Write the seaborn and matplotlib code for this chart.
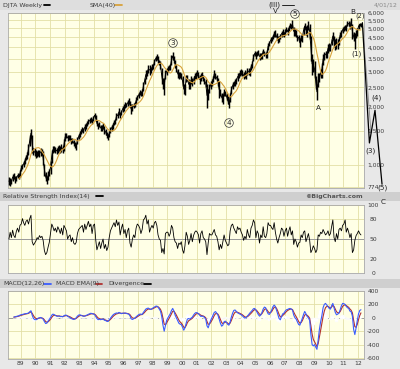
import numpy as np
import pandas as pd
import matplotlib
matplotlib.use("Agg")
import matplotlib.pyplot as plt
from matplotlib.ticker import FixedLocator, FixedFormatter, NullLocator, NullFormatter
from matplotlib.lines import Line2D
from matplotlib.patches import Rectangle
import seaborn as sns

# ---------------- data (monthly, Mar 1988 .. Mar 2012) ----------------
price_low = [
    790, 785, 800, 830, 850, 815, 830, 860, 850, 870,
    930, 960, 980, 1010, 1060, 1080, 1130, 1250, 1380, 1150, 1130, 1120,
    1090, 1100, 1120, 1100, 1120, 1130, 1000, 880, 830, 800, 840, 880,
    900, 1030, 1150, 1170, 1150, 1140, 1160, 1180, 1150, 1170, 1150, 1180,
    1330, 1370, 1330, 1340, 1350, 1290, 1300, 1260, 1230, 1200, 1280, 1360,
    1400, 1440, 1480, 1460, 1500, 1540, 1580, 1620, 1640, 1660, 1620, 1680,
    1740, 1680, 1580, 1540, 1560, 1500, 1500, 1540, 1450, 1430, 1370, 1350,
    1400, 1470, 1500, 1540, 1600, 1620, 1700, 1750, 1800, 1750, 1800, 1880,
    1900, 1950, 1980, 2000, 2050, 1980, 1830, 1900, 1950, 1980, 2050, 2150,
    2200, 2280, 2250, 2250, 2400, 2600, 2750, 2850, 2950, 2900, 2950, 3050,
    3100, 3250, 3400, 3450, 3350, 3250, 3100, 2600, 2450, 2280, 2750, 2900,
    3000, 3050, 3050, 3250, 3450, 3350, 3150, 3000, 2800, 2750, 2800, 2750,
    2550, 2300, 2280, 2650, 2700, 2450, 2450, 2600, 2550, 2600, 2750, 2750,
    2850, 2800, 2600, 2700, 2800, 2700, 2600, 2500, 1950, 2150, 2350, 2450,
    2550, 2650, 2800, 2750, 2700, 2550, 2200, 2250, 2100, 2050, 2250, 2250,
    2150, 2050, 1950, 2100, 2300, 2450, 2550, 2550, 2600, 2700, 2800, 2850,
    2900, 2850, 2750, 2800, 2750, 2900, 2900, 2850, 3050, 3150, 3400, 3600,
    3500, 3600, 3650, 3450, 3500, 3500, 3700, 3600, 3550, 3550, 3900, 4050,
    4200, 4300, 4400, 4550, 4500, 4350, 4200, 4250, 4400, 4550, 4600, 4500,
    4650, 4800, 4650, 4850, 5000, 4950, 5000, 4600, 4600, 4500, 4300, 4350,
    4000, 4300, 4250, 4650, 4950, 4650, 4500, 4900, 4400, 3400, 2900, 3000,
    2800, 2450, 2150, 2500, 2650, 2800, 2800, 3250, 3450, 3550, 3550, 3750,
    3850, 3850, 4100, 4350, 4000, 3900, 3950, 3950, 4100, 4450, 4550, 4750,
    4850, 4900, 4850, 5150, 5150, 4950, 5200, 4400, 4300, 3950, 4450, 4600,
    4950, 5150, 5100,
]
price_high = [
    870, 860, 850, 905, 915, 880, 885, 910, 900, 945,
    1000, 1020, 1050, 1090, 1130, 1170, 1290, 1420, 1535, 1420, 1230, 1220,
    1200, 1180, 1200, 1190, 1220, 1210, 1180, 1020, 920, 880, 930, 960,
    1050, 1200, 1250, 1260, 1240, 1230, 1260, 1270, 1250, 1280, 1260, 1360,
    1460, 1470, 1430, 1420, 1430, 1380, 1380, 1340, 1310, 1300, 1400, 1440,
    1490, 1530, 1570, 1550, 1620, 1640, 1680, 1720, 1740, 1760, 1720, 1790,
    1860, 1800, 1700, 1640, 1660, 1600, 1600, 1640, 1580, 1540, 1480, 1450,
    1500, 1560, 1600, 1640, 1700, 1720, 1860, 1850, 1950, 1880, 1920, 2000,
    2050, 2100, 2080, 2150, 2200, 2120, 2050, 2050, 2080, 2100, 2220, 2280,
    2350, 2420, 2400, 2450, 2650, 2800, 3050, 3050, 3250, 3250, 3150, 3300,
    3300, 3500, 3600, 3700, 3600, 3450, 3400, 3150, 2800, 2800, 3050, 3150,
    3200, 3250, 3300, 3650, 3780, 3600, 3450, 3250, 3100, 3000, 3000, 2950,
    2850, 2600, 2600, 2900, 2900, 2750, 2700, 2850, 2800, 2850, 2950, 3000,
    3050, 3000, 2900, 2950, 3000, 2900, 2800, 2750, 2600, 2450, 2600, 2700,
    2750, 2850, 3050, 2950, 2900, 2800, 2700, 2450, 2350, 2300, 2450, 2400,
    2350, 2250, 2150, 2350, 2550, 2650, 2700, 2750, 2800, 2950, 2950, 3050,
    3100, 3050, 3000, 3050, 2950, 3150, 3150, 3100, 3300, 3400, 3700, 3850,
    3800, 3850, 3900, 3750, 3750, 3750, 3950, 3850, 3800, 3900, 4200, 4300,
    4500, 4550, 4650, 4850, 4900, 4750, 4600, 4600, 4700, 4850, 4950, 4800,
    4950, 5100, 5000, 5150, 5350, 5250, 5500, 5100, 4950, 4900, 4650, 4650,
    4450, 4650, 4700, 5100, 5350, 5150, 5200, 5450, 5300, 4600, 3700, 3500,
    3400, 2850, 2600, 2950, 2950, 3100, 3350, 3700, 3800, 3850, 3850, 4150,
    4200, 4150, 4400, 4800, 4600, 4400, 4450, 4400, 4550, 4800, 4900, 5100,
    5150, 5200, 5200, 5450, 5450, 5300, 5650, 5300, 4800, 4750, 4900, 5050,
    5300, 5350, 5350,
]
rsi_values = [
    50, 60, 52, 63, 55, 52, 61, 66, 60, 70,
    72, 80, 74, 70, 76, 78, 72, 80, 85, 46, 41, 44,
    47, 52, 50, 55, 52, 54, 48, 33, 27, 30, 38, 45,
    58, 72, 68, 62, 66, 60, 68, 64, 58, 66, 56, 70,
    66, 62, 50, 54, 56, 46, 52, 44, 42, 45, 58, 64,
    66, 68, 70, 60, 72, 64, 70, 76, 68, 72, 58, 70,
    72, 48, 34, 40, 46, 36, 44, 50, 36, 42, 33, 38,
    52, 62, 66, 70, 74, 68, 78, 70, 75, 56, 66, 72,
    58, 64, 52, 62, 66, 44, 38, 50, 56, 52, 66, 72,
    70, 66, 58, 64, 78, 80, 85, 72, 78, 60, 66, 70,
    66, 74, 76, 70, 56, 50, 48, 30, 36, 28, 58, 60,
    60, 54, 58, 70, 66, 52, 46, 44, 36, 44, 42, 46,
    34, 29, 40, 60, 54, 42, 48, 58, 46, 55, 60, 62,
    60, 56, 44, 58, 62, 52, 50, 46, 27, 44, 58, 56,
    56, 60, 64, 56, 54, 46, 34, 42, 36, 46, 56, 48,
    44, 40, 42, 62, 70, 72, 66, 62, 58, 68, 64, 66,
    60, 56, 48, 54, 50, 64, 56, 52, 66, 70, 78, 74,
    52, 62, 58, 44, 56, 52, 68, 54, 52, 58, 74, 70,
    70, 66, 64, 74, 60, 50, 44, 52, 58, 66, 64, 54,
    62, 66, 54, 62, 68, 56, 62, 42, 50, 46, 38, 44,
    45, 56, 52, 60, 62, 46, 52, 58, 48, 30, 34, 40,
    36, 30, 34, 56, 54, 60, 58, 64, 60, 56, 58, 62,
    55, 58, 68, 78, 52, 46, 58, 50, 64, 66, 62, 70,
    72, 78, 60, 66, 60, 52, 58, 30, 34, 48, 55, 58,
    62, 58, 56,
]
macd_values = [
    np.nan, np.nan, np.nan, np.nan, 10, 15, 20, 25, 30, 40,
    45, 50, 55, 60, 62, 65, 72, 90, 105, 40, -10, -25,
    -30, -20, -5, 0, 5, -5, -20, -55, -85, -80, -50, -25,
    5, 40, 55, 48, 35, 25, 22, 28, 18, 20, 15, 30,
    40, 38, 22, 12, 5, -10, -20, -25, -18, 0, 25, 40,
    45, 38, 30, 22, 25, 35, 42, 52, 60, 68, 62, 58,
    50, 20, -10, -28, -22, -28, -22, -18, -35, -40, -52, -55,
    -30, -5, 20, 40, 55, 65, 72, 68, 80, 70, 62, 68,
    70, 72, 65, 60, 55, 30, -15, -25, -15, -5, 15, 30,
    45, 55, 55, 50, 80, 105, 130, 140, 145, 130, 125, 135,
    150, 160, 172, 175, 160, 130, 100, 20, -110, -200, -120, -40,
    0, 30, 60, 110, 140, 100, 40, 0, -40, -80, -95, -100,
    -140, -185, -150, -80, -20, -10, -20, -5, 10, 40, 65, 78,
    75, 60, 40, 20, 25, 20, 5, -20, -120, -150, -90, -40,
    0, 40, 80, 93, 70, 40, -20, -80, -125, -110, -60, -50,
    -70, -100, -110, -60, 10, 70, 110, 117, 95, 75, 65, 55,
    45, 30, 10, -5, 5, 25, 45, 70, 90, 110, 135, 140,
    115, 80, 50, 25, 40, 80, 130, 160, 150, 100, 60, 50,
    80, 120, 165, 190, 170, 110, 50, -10, -30, 20, 60, 70,
    100, 120, 125, 135, 140, 130, 115, 40, 0, -20, -60, -100,
    -110, -60, -10, 50, 95, 60, 20, 0, -40, -250, -400, -420,
    -400, -440, -470, -330, -175, -60, 30, 150, 200, 215, 190, 170,
    140, 130, 180, 215, 150, 80, 45, 55, 70, 120, 180, 215,
    210, 200, 170, 150, 140, 100, 90, 25, -175, -250, -150, -40,
    60, 110, 120,
]
year_labels = ["89", "90", "91", "92", "93", "94", "95", "96", "97", "98", "99", "00",
               "01", "02", "03", "04", "05", "06", "07", "08", "09", "10", "11", "12"]
price_ticks = [774, 1000, 1500, 2000, 2500, 3000, 3500, 4000, 4500, 5000, 5500, 6000]
price_tick_labels = ["774", "1,000", "1,500", "2,000", "2,500", "3,000", "3,500",
                     "4,000", "4,500", "5,000", "5,500", "6,000"]
rsi_ticks = [0, 20, 50, 80, 100]
macd_ticks = [-600, -400, -200, 0, 200, 400]
# hand-drawn wave projection (2)->(3)->(4)->(5)
wave_dates = ["2012-04-20", "2012-10-12", "2013-02-28", "2013-08-22"]
wave_values = [5350, 1300, 1910, 800]

# ---------------- frame ----------------
months = pd.date_range("1988-03-01", periods=len(price_low), freq="MS") + pd.Timedelta(days=14)
df = pd.DataFrame({"date": months, "low": price_low, "high": price_high,
                   "rsi": rsi_values, "macd": macd_values})
df["mid"] = (df["low"] + df["high"]) / 2.0
df["sma"] = df["mid"].rolling(9).mean()
df["signal"] = df["macd"].ewm(alpha=0.45, adjust=False, ignore_na=True).mean()
df["div"] = df["macd"] - df["signal"]

sns.set_style("white")
plt.rcParams["font.family"] = ["DejaVu Sans"]
plt.rcParams["axes.unicode_minus"] = False

W, H = 400.0, 369.0
BG = "#e8e8e8"
BAND = "#cfcfcf"
PLOT_BG = "#ffffe6"
GRID = "#e3dfa6"
TXT = "#3a3a3a"

def fx(x):
    return x / W

def fy(y):
    return 1.0 - y / H

fig = plt.figure(figsize=(4.0, 3.69), dpi=100)
fig.patch.set_facecolor(BG)
for (y0, y1, c) in [(0, 10, "#dedede"), (192, 201, BAND), (279, 288, BAND)]:
    fig.add_artist(Rectangle((0, fy(y1)), 1, (y1 - y0) / H, transform=fig.transFigure,
                             facecolor=c, edgecolor="none", zorder=0))

L, R = 8, 364
ax1 = fig.add_axes([fx(L), fy(188), (R - L) / W, (188 - 13) / H])
ax2 = fig.add_axes([fx(L), fy(273), (R - L) / W, (273 - 205) / H])
ax3 = fig.add_axes([fx(L), fy(359), (R - L) / W, (359 - 291) / H])

x0, x1 = pd.Timestamp("1988-02-21"), pd.Timestamp("2012-05-30")
year_dates = pd.date_range("1989-01-01", "2012-01-01", freq="YS")

# ---------------- price panel ----------------
ax1.vlines(df["date"], df["low"], df["high"], color="black", lw=1.05, zorder=3)
sns.lineplot(data=df, x="date", y="mid", ax=ax1, color="black", lw=0.7, legend=False, zorder=3)
sns.lineplot(data=df, x="date", y="sma", ax=ax1, color="#d8a23c", lw=0.8, legend=False, zorder=4)
ax1.plot(pd.to_datetime(wave_dates), wave_values, color="black", lw=0.9, clip_on=False, zorder=6)
ax1.plot(pd.to_datetime([wave_dates[0], "2012-11-20"]), [wave_values[0], 1480], color="#8a8a8a",
         lw=0.6, clip_on=False, zorder=5)
ax1.set_yscale("log")
ax1.set_ylim(765, 6000)
ax1.yaxis.set_major_locator(FixedLocator(price_ticks))
ax1.yaxis.set_major_formatter(FixedFormatter(price_tick_labels))
ax1.yaxis.set_minor_locator(NullLocator())
ax1.yaxis.set_minor_formatter(NullFormatter())

# ---------------- RSI panel ----------------
sns.lineplot(data=df, x="date", y="rsi", ax=ax2, color="black", lw=0.6, legend=False, zorder=3)
ax2.set_ylim(0, 100)
ax2.set_yticks(rsi_ticks)
ax2.axhline(50, color="#9a9a9a", lw=0.7, zorder=2)

# ---------------- MACD panel ----------------
ax3.bar(df["date"], df["div"], width=22, color="black", zorder=3)
sns.lineplot(data=df, x="date", y="signal", ax=ax3, color="#b03030", lw=0.8, legend=False, zorder=4)
sns.lineplot(data=df, x="date", y="macd", ax=ax3, color="#3a5cff", lw=0.8, legend=False, zorder=5)
ax3.set_ylim(-615, 400)
ax3.set_yticks(macd_ticks)
ax3.axhline(0, color="#9a9a9a", lw=0.7, zorder=2)

for ax in (ax1, ax2, ax3):
    ax.set_facecolor(PLOT_BG)
    for s in ax.spines.values():
        s.set_color("#a9a9a9")
        s.set_linewidth(0.6)
    ax.set_xlim(x0, x1)
    ax.set_xticks(year_dates)
    ax.grid(True, color=GRID, lw=0.6)
    ax.set_axisbelow(True)
    ax.yaxis.tick_right()
    ax.tick_params(length=0, labelsize=4.3, labelcolor=TXT)
    ax.set_xlabel("")
    ax.set_ylabel("")

ax1.tick_params(axis="x", labelbottom=False)
ax2.tick_params(axis="x", labelbottom=False)
ax3.set_xticklabels(year_labels)
ax3.tick_params(axis="x", pad=1.5)
ax1.tick_params(axis="y", pad=2.5)
for ax in (ax2, ax3):
    ax.tick_params(axis="y", pad=6.5)
    plt.setp(ax.get_yticklabels(), ha="center")

# ---------------- header texts ----------------
fs = 4.5
def t(x, y, s, ha="left", **kw):
    fig.text(fx(x), fy(y), s, ha=ha, va="center", fontsize=kw.pop("fontsize", fs),
             color=kw.pop("color", TXT), **kw)

def dash(xa, xb, y, c, lw=1.3):
    fig.add_artist(Line2D([fx(xa), fx(xb)], [fy(y), fy(y)], transform=fig.transFigure,
                          color=c, lw=lw))

t(3, 5, "DJTA Weekly")
dash(44, 50, 5, "black")
t(90, 5, "SMA(40)")
dash(115, 122, 5, "#d8a23c")
t(398, 5, "4/01/12", ha="right", color="#8a8a8a")

t(3, 196.5, "Relative Strength Index(14)")
dash(96, 103, 196.5, "black")
t(363, 196.5, "\u00a9BigCharts.com", ha="right", fontweight="bold", color="#555555")

t(3, 283.5, "MACD(12,26)")
dash(44, 51, 283.5, "#3a5cff")
t(56, 283.5, "MACD EMA(9)")
dash(96, 102, 283.5, "#b03030")
t(108, 283.5, "Divergence")
dash(144, 151, 283.5, "black")

# ---------------- wave labels ----------------
fl = 5.2
t(268, 5, "(III)", fontsize=fl, color="#222222")
dash(282, 294, 5, "#222222", lw=0.7)
t(275, 11, "V", ha="center", fontsize=fl, color="#222222")
t(353, 12, "B", ha="center", fontsize=fl, color="#222222")
t(360, 16, "(2)", ha="center", fontsize=4.8, color="#222222")
t(356, 54, "(1)", ha="center", fontsize=fl, color="#222222")
t(318, 108, "A", ha="center", fontsize=fl, color="#222222")
t(376, 98, "(4)", ha="center", fontsize=fl, color="#222222")
t(370, 151, "(3)", ha="center", fontsize=fl, color="#222222")
t(383, 188, "(5)", ha="center", fontsize=fl, color="#222222")
t(383, 202, "C", ha="center", fontsize=fl, color="#222222")
for (cx, cy, s) in [(173, 43, "3"), (229, 123, "4"), (295, 14, "5")]:
    fig.text(fx(cx), fy(cy), s, ha="center", va="center", fontsize=fl, color="#222222",
             bbox=dict(boxstyle="circle,pad=0.18", fc="none", ec="#333333", lw=0.5))

fig.savefig("out.png", dpi=100, facecolor=fig.get_facecolor())
